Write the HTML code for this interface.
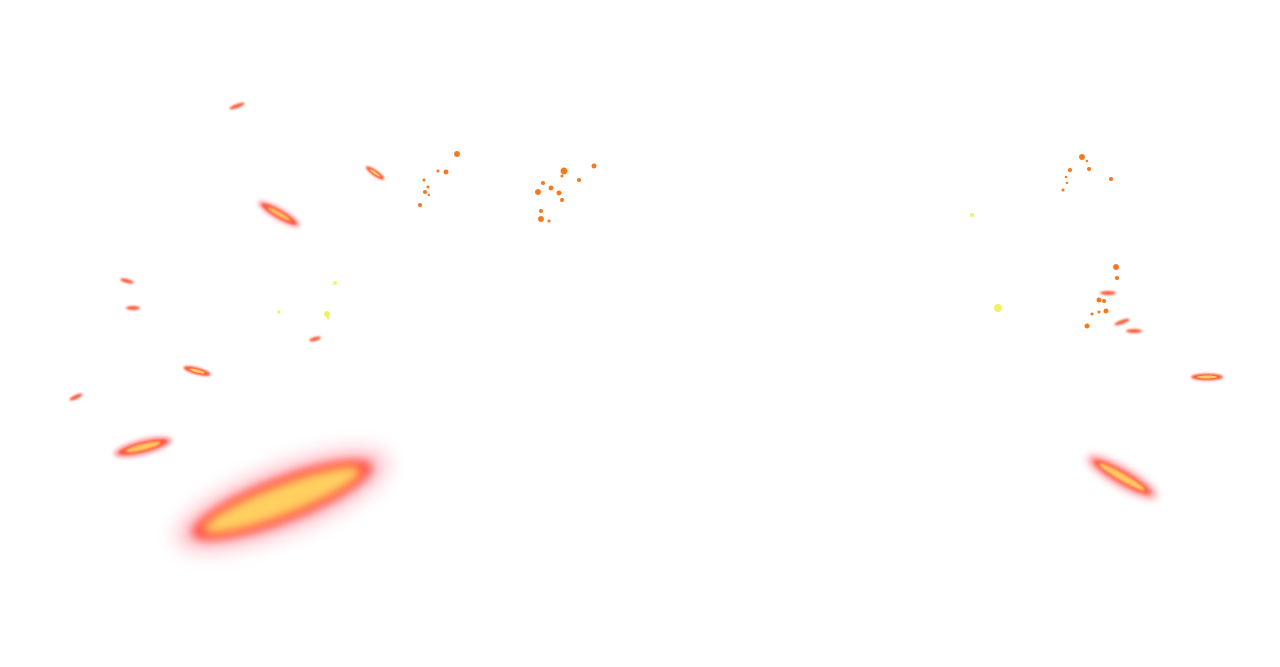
<!DOCTYPE html>
<html><head><meta charset="utf-8"><style>
html,body{margin:0;padding:0;background:#fff;width:1280px;height:667px;overflow:hidden}
</style></head><body>
<svg width="1280" height="667" viewBox="0 0 1280 667" xmlns="http://www.w3.org/2000/svg">
<defs>
<filter id="b8" x="-50%" y="-50%" width="200%" height="200%"><feGaussianBlur stdDeviation="10"/></filter>
<filter id="b5" x="-50%" y="-50%" width="200%" height="200%"><feGaussianBlur stdDeviation="5"/></filter>
<filter id="b4" x="-50%" y="-50%" width="200%" height="200%"><feGaussianBlur stdDeviation="4"/></filter>
<filter id="b2" x="-50%" y="-50%" width="200%" height="200%"><feGaussianBlur stdDeviation="2"/></filter>
<filter id="b1" x="-50%" y="-50%" width="200%" height="200%"><feGaussianBlur stdDeviation="1"/></filter>
</defs>
<g transform="translate(282,500) rotate(-21)">
<ellipse rx="112" ry="32" fill="#ff3a5a" opacity="0.35" filter="url(#b8)"/>
<ellipse rx="96" ry="22" fill="#ff4a40" filter="url(#b5)"/>
<ellipse rx="84" ry="15" fill="#ffd060" filter="url(#b5)"/>
</g>
<g transform="translate(1122,477) rotate(30)">
<ellipse rx="40" ry="10" fill="#ff3a4a" opacity="0.5" filter="url(#b4)"/>
<ellipse rx="33" ry="6" fill="#ff5a3a" filter="url(#b2)"/>
<ellipse rx="26" ry="3.5" fill="#ffc860" filter="url(#b1)"/>
</g>
<g transform="translate(143,447) rotate(-14)">
<ellipse rx="30" ry="8" fill="#ff3a4a" opacity="0.5" filter="url(#b2)"/>
<ellipse rx="25" ry="5" fill="#ff5a3a" filter="url(#b1)"/>
<ellipse rx="18" ry="3" fill="#ffc860" filter="url(#b1)"/>
</g>
<g transform="translate(279,214) rotate(30)">
<ellipse rx="24" ry="6" fill="#ff3a4a" opacity="0.5" filter="url(#b2)"/>
<ellipse rx="20" ry="4" fill="#ff5a3a" filter="url(#b1)"/>
<ellipse rx="13" ry="2" fill="#ffc860" filter="url(#b1)"/>
</g>
<g fill="#ff5a3a" filter="url(#b1)">
<ellipse cx="197" cy="371" rx="14" ry="3.5" transform="rotate(15 197 371)"/>
<ellipse cx="1207" cy="377" rx="16" ry="3.5"/>
<ellipse cx="375" cy="173" rx="11" ry="3" transform="rotate(35 375 173)"/>
<ellipse cx="237" cy="106" rx="8" ry="2" transform="rotate(-20 237 106)"/>
<ellipse cx="127" cy="281" rx="7" ry="2" transform="rotate(15 127 281)"/>
<ellipse cx="133" cy="308" rx="7" ry="2"/>
<ellipse cx="76" cy="397" rx="7" ry="2" transform="rotate(-25 76 397)"/>
<ellipse cx="315" cy="339" rx="6" ry="2" transform="rotate(-15 315 339)"/>
<ellipse cx="1122" cy="322" rx="8" ry="2" transform="rotate(-20 1122 322)"/>
<ellipse cx="1134" cy="331" rx="8" ry="2"/>
<ellipse cx="1108" cy="293" rx="8" ry="2"/>
</g>
<g fill="#ffcc66">
<ellipse cx="197" cy="371" rx="8" ry="1.5" transform="rotate(15 197 371)"/>
<ellipse cx="1207" cy="377" rx="10" ry="1.5"/>
<ellipse cx="375" cy="173" rx="6" ry="1.2" transform="rotate(35 375 173)"/>
</g>
<g fill="#f4f060">
<circle cx="327" cy="314" r="3"/><circle cx="335" cy="283" r="2"/><circle cx="279" cy="312" r="1.5"/>
<circle cx="998" cy="308" r="4"/><circle cx="972" cy="215" r="2"/><circle cx="328" cy="318" r="1.5"/>
</g>
<g fill="#f47a20">
<circle cx="457" cy="154" r="3"/><circle cx="446" cy="172" r="2.5"/><circle cx="438" cy="171" r="1.5"/>
<circle cx="424" cy="180" r="1.5"/><circle cx="428" cy="187" r="1.5"/><circle cx="425" cy="192" r="2"/>
<circle cx="429" cy="195" r="1.2"/><circle cx="420" cy="205" r="2"/>
<circle cx="564" cy="171" r="3.5"/><circle cx="594" cy="166" r="2.5"/><circle cx="579" cy="180" r="2"/>
<circle cx="562" cy="176" r="1.5"/><circle cx="543" cy="183" r="2"/><circle cx="551" cy="188" r="2.5"/>
<circle cx="538" cy="192" r="3"/><circle cx="559" cy="193" r="2.5"/><circle cx="562" cy="200" r="2"/>
<circle cx="541" cy="211" r="2"/><circle cx="541" cy="219" r="3"/><circle cx="549" cy="221" r="1.5"/>
<circle cx="1082" cy="157" r="3"/><circle cx="1087" cy="161" r="1.2"/><circle cx="1070" cy="170" r="2"/>
<circle cx="1089" cy="169" r="2"/><circle cx="1066" cy="177" r="1.2"/><circle cx="1111" cy="179" r="2"/>
<circle cx="1067" cy="183" r="1.2"/><circle cx="1063" cy="190" r="1.5"/>
<circle cx="1116" cy="267" r="3"/><circle cx="1117" cy="278" r="2"/><circle cx="1099" cy="300" r="2.5"/>
<circle cx="1104" cy="301" r="2"/><circle cx="1106" cy="311" r="2.5"/><circle cx="1099" cy="312" r="1.5"/>
<circle cx="1092" cy="314" r="1.5"/><circle cx="1087" cy="326" r="2.5"/>
</g>
</svg>
</body></html>
